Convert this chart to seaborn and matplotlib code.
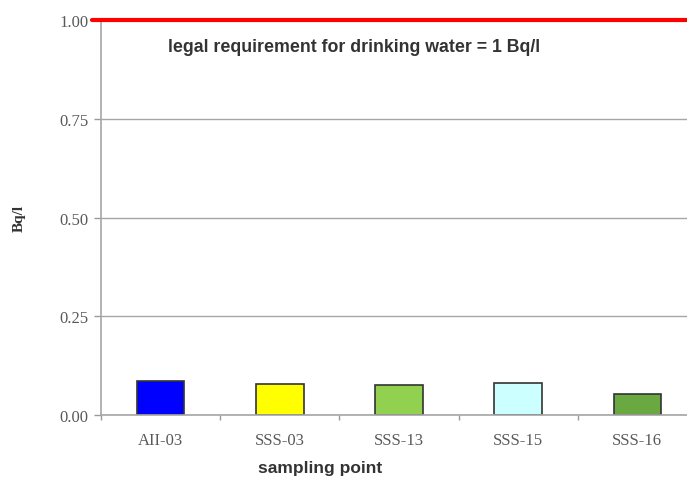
import pandas as pd
import seaborn as sns
import matplotlib.pyplot as plt

# Values
points = ["AII-03", "SSS-03", "SSS-13", "SSS-15", "SSS-16"]
activity = [0.086, 0.078, 0.076, 0.081, 0.053]
colors = ["#0000ff", "#ffff00", "#92d050", "#ccffff", "#6aa842"]
limit = 1.0
yticks = [0.0, 0.25, 0.50, 0.75, 1.00]

df = pd.DataFrame({"point": points, "Bq/l": activity})

sns.set_style("white")
fig = plt.figure(figsize=(6.87, 4.81), dpi=100)
ax = fig.add_axes([0.147, 0.135, 0.8676, 0.821])

sns.barplot(data=df, x="point", y="Bq/l", hue="point", palette=colors,
            saturation=1, width=0.4, edgecolor="#333333", linewidth=1.2,
            legend=False, ax=ax)

ax.set_xlim(-0.5, len(points) - 0.5)
ax.set_ylim(0, 1.0)
ax.set_yticks(yticks)
ax.set_yticklabels([f"{v:.2f}" for v in yticks])
ax.yaxis.grid(True, color="#a6a6a6", linewidth=1)
ax.set_axisbelow(True)

# category separators as minor ticks
ax.set_xticks([i + 0.5 for i in range(-1, len(points))], minor=True)
ax.tick_params(axis="x", which="minor", bottom=True, length=3.5,
               color="#999999", width=1)
ax.tick_params(axis="x", which="major", bottom=False, length=0, pad=12)
ax.tick_params(axis="y", left=True, length=5, color="#999999", width=1, pad=4)

for lab in ax.get_xticklabels() + ax.get_yticklabels():
    lab.set_fontfamily("Liberation Serif")
    lab.set_fontsize(12)
    lab.set_color("#595959")

for side in ["top", "right"]:
    ax.spines[side].set_visible(False)
for side in ["left", "bottom"]:
    ax.spines[side].set_color("#a6a6a6")
    ax.spines[side].set_linewidth(1.2)

ax.axhline(limit, xmin=-0.015, color="#ff0000", linewidth=3, clip_on=False, zorder=5)
ax.text(0.113, 0.955, "legal requirement for drinking water = 1 Bq/l",
        transform=ax.transAxes, fontsize=12.8, fontweight="bold",
        family="Liberation Sans", color="#333333", va="top")

ax.set_xlabel("sampling point", fontsize=12.5, fontweight="bold",
              family="Liberation Sans", color="#333333", labelpad=16)
ax.xaxis.set_label_coords(0.368, -0.115)
ax.set_ylabel("Bq/l", fontsize=11, fontweight="bold",
              family="Liberation Serif", color="#333333")
ax.yaxis.set_label_coords(-0.127, 0.5)

fig.savefig("out.png", dpi=100)
